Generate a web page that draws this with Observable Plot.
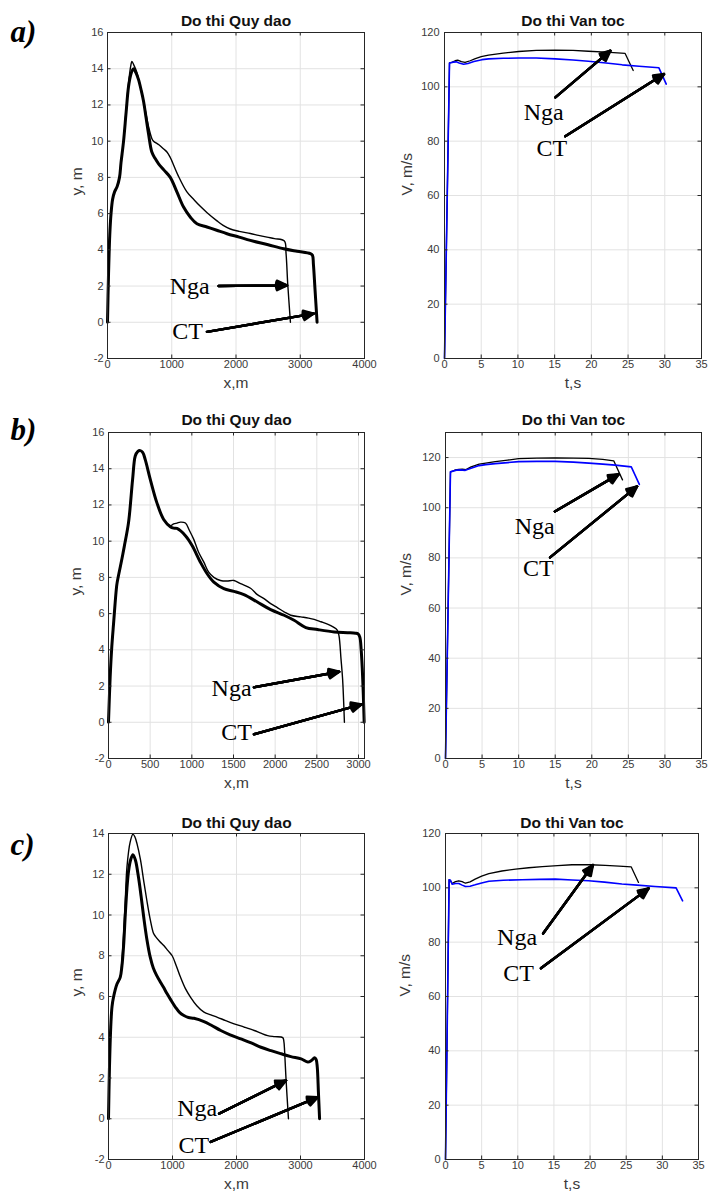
<!DOCTYPE html>
<html><head><meta charset="utf-8">
<script src="https://cdn.jsdelivr.net/npm/d3@7"></script>
<script src="https://cdn.jsdelivr.net/npm/@observablehq/plot@0.6"></script>
<style>
html,body{margin:0;padding:0;background:#fff;}
#root{position:relative;width:709px;height:1199px;background:#fff;overflow:hidden;}
</style></head><body><div id="root"></div>
<script>
// ---------- tick labels ----------
const pathXTicks4000 = [0, 1000, 2000, 3000, 4000];
const pathXTicks3000 = [0, 500, 1000, 1500, 2000, 2500, 3000];
const pathYTicks16 = [-2, 0, 2, 4, 6, 8, 10, 12, 14, 16];
const pathYTicks14 = [-2, 0, 2, 4, 6, 8, 10, 12, 14];
const velXTicks = [0, 5, 10, 15, 20, 25, 30, 35];
const velYTicks = [0, 20, 40, 60, 80, 100, 120];
const seriesNames = ["Nga", "CT"];

// ---------- panel a: trajectory ----------
const aPathNgaX = [0, 15, 35, 55, 80, 110, 150, 187, 210, 250, 290, 327, 364, 380, 410, 457, 510, 561, 600, 639, 690, 717, 800, 880, 925, 970, 1003, 1100, 1236, 1350, 1444, 1550, 1704, 1800, 1912, 2050, 2223, 2350, 2483, 2600, 2753, 2779, 2805, 2847];
const aPathNgaY = [0, 2.5, 4.8, 6.0, 6.8, 7.2, 7.5, 8.0, 8.8, 10.0, 11.7, 13.2, 14.2, 14.4, 14.2, 13.8, 13.0, 12.2, 11.5, 10.8, 10.15, 10.0, 9.8, 9.55, 9.4, 9.15, 8.9, 8.1, 7.2, 6.75, 6.4, 6.05, 5.6, 5.35, 5.15, 5.02, 4.9, 4.8, 4.7, 4.62, 4.49, 3.79, 2.13, 0];
const aPathCtX = [0, 15, 35, 55, 80, 110, 150, 187, 210, 250, 290, 327, 364, 405, 440, 483, 525, 561, 600, 639, 690, 740, 795, 880, 977, 1080, 1184, 1290, 1392, 1548, 1700, 1860, 2050, 2223, 2500, 2743, 2950, 3158, 3190, 3205, 3230, 3262];
const aPathCtY = [0, 2.5, 4.8, 6.0, 6.8, 7.2, 7.5, 8.0, 8.8, 10.0, 11.6, 13.0, 13.7, 14.0, 13.8, 13.4, 12.8, 12.2, 11.3, 10.4, 9.4, 9.05, 8.75, 8.4, 8.0, 7.2, 6.36, 5.8, 5.44, 5.26, 5.08, 4.89, 4.7, 4.52, 4.28, 4.06, 3.92, 3.79, 3.7, 3.2, 1.8, 0];
const aPathNoteX = [1278, 1247];
const aPathNoteY = [2.0, -0.51];
const aPathArrowX1 = [1730, 1548];
const aPathArrowY1 = [2.0, -0.53];
const aPathArrowX2 = [2795, 3210];
const aPathArrowY2 = [2.04, 0.48];

// ---------- panel a: velocity ----------
const aVelNgaT = [0, 0.68, 1.0, 1.45, 1.8, 2.3, 2.8, 3.5, 4.2, 5.0, 6.0, 8.0, 10.1, 12.5, 15.1, 17.5, 19.6, 22.0, 24.6, 25.7];
const aVelNgaV = [0, 108.8, 109.0, 109.6, 109.8, 109.3, 109.0, 109.6, 110.4, 111.1, 111.7, 112.4, 113.0, 113.4, 113.5, 113.4, 113.1, 112.8, 112.3, 106.0];
const aVelCtT = [0, 0.68, 1.2, 1.6, 2.0, 2.6, 3.2, 4.0, 5.1, 6.0, 8.0, 10.1, 12.5, 15.1, 17.5, 19.6, 22.0, 24.2, 26.5, 29.2, 30.2];
const aVelCtV = [0, 108.8, 109.1, 109.2, 108.8, 108.3, 108.6, 109.3, 110.0, 110.3, 110.5, 110.6, 110.6, 110.3, 109.9, 109.4, 108.8, 108.1, 107.6, 107.0, 101.0];
const aVelNoteT = [13.5, 14.6];
const aVelNoteV = [90.8, 77.3];
const aVelArrowT1 = [15.1, 16.45];
const aVelArrowV1 = [96.1, 81.8];
const aVelArrowT2 = [22.6, 29.9];
const aVelArrowV2 = [113.3, 104.7];

// ---------- panel b: trajectory ----------
const bPathNgaX = [0, 20, 40, 60, 100, 120, 160, 189, 241, 289, 321, 350, 381, 410, 441, 502, 582, 662, 742, 782, 823, 863, 923, 970, 1023, 1080, 1144, 1200, 1264, 1344, 1420, 1505, 1585, 1705, 1786, 1866, 1946, 2026, 2107, 2187, 2307, 2400, 2468, 2550, 2628, 2700, 2743, 2765, 2790, 2809, 2831];
const bPathNgaY = [0, 2.5, 4.2, 5.4, 7.6, 8.1, 9.0, 9.7, 11.05, 13.4, 14.7, 14.95, 15.0, 14.9, 14.5, 13.4, 12.1, 11.2, 10.85, 10.95, 11.0, 11.05, 11.0, 10.6, 10.1, 9.4, 8.84, 8.3, 8.0, 7.83, 7.8, 7.83, 7.65, 7.4, 7.05, 6.83, 6.55, 6.33, 6.1, 5.91, 5.82, 5.75, 5.68, 5.55, 5.42, 5.25, 5.1, 4.8, 3.5, 2.4, 0];
const bPathCtX = [0, 20, 40, 60, 100, 120, 160, 189, 241, 289, 321, 350, 381, 410, 441, 502, 582, 662, 742, 782, 822, 923, 1003, 1103, 1184, 1264, 1384, 1505, 1625, 1786, 1946, 2107, 2227, 2368, 2508, 2709, 2869, 2964, 2995, 3016, 3032, 3045, 3058, 3068];
const bPathCtY = [0, 2.5, 4.2, 5.4, 7.6, 8.1, 9.0, 9.7, 11.05, 13.4, 14.7, 14.95, 15.0, 14.9, 14.5, 13.4, 12.1, 11.2, 10.8, 10.72, 10.7, 10.3, 9.76, 8.84, 8.2, 7.74, 7.38, 7.23, 7.05, 6.64, 6.22, 5.91, 5.63, 5.23, 5.12, 4.99, 4.95, 4.92, 4.88, 4.7, 4.0, 3.0, 1.5, 0];
const bPathNoteX = [1477, 1537];
const bPathNoteY = [1.87, -0.55];
const bPathArrowX1 = [1745, 1745];
const bPathArrowY1 = [1.93, -0.66];
const bPathArrowX2 = [2769, 3038];
const bPathArrowY2 = [2.79, 0.99];

// ---------- panel b: velocity ----------
const bVelNgaT = [0, 0.68, 1.0, 1.37, 1.8, 2.3, 2.8, 3.5, 4.6, 5.5, 6.8, 8.5, 10.0, 12.5, 15.0, 17.5, 19.6, 21.5, 23.0, 24.2];
const bVelNgaV = [0, 114.3, 114.6, 115.1, 115.3, 115.4, 115.2, 116.3, 117.4, 117.8, 118.4, 119.0, 119.6, 119.8, 119.9, 119.8, 119.7, 119.3, 118.7, 111.1];
const bVelCtT = [0, 0.68, 1.0, 1.5, 2.0, 2.7, 3.5, 4.6, 5.5, 6.8, 8.5, 10.0, 12.5, 15.0, 17.5, 19.6, 21.5, 23.2, 25.4, 26.5];
const bVelCtV = [0, 114.3, 114.6, 115.0, 115.1, 114.9, 115.7, 116.8, 117.2, 117.6, 118.0, 118.4, 118.5, 118.5, 118.2, 117.8, 117.4, 117.0, 116.3, 109.3];
const bVelNoteT = [12.2, 12.7];
const bVelNoteV = [92.4, 75.9];
const bVelArrowT1 = [14.95, 14.3];
const bVelArrowV1 = [98.5, 80.2];
const bVelArrowT2 = [23.7, 26.2];
const bVelArrowV2 = [113.4, 108.5];

// ---------- panel c: trajectory ----------
const cPathNgaX = [0, 15, 35, 55, 78, 131, 183, 210, 236, 262, 288, 340, 382, 410, 445, 500, 550, 600, 654, 703, 733, 800, 864, 930, 995, 1060, 1126, 1200, 1283, 1380, 1492, 1600, 1702, 1830, 1963, 2120, 2277, 2380, 2487, 2600, 2723, 2740, 2752, 2775, 2812];
const cPathNgaY = [0, 2.5, 4.5, 5.5, 5.96, 6.6, 6.94, 7.8, 9.07, 10.7, 12.34, 13.6, 13.97, 13.85, 13.5, 12.7, 11.68, 10.7, 9.75, 9.1, 8.95, 8.7, 8.5, 8.25, 8.0, 7.5, 6.94, 6.4, 5.96, 5.55, 5.23, 5.1, 4.98, 4.82, 4.66, 4.5, 4.33, 4.2, 4.08, 4.03, 3.98, 3.8, 3.3, 1.88, 0];
const cPathCtX = [0, 15, 35, 55, 78, 131, 183, 210, 236, 262, 288, 314, 345, 382, 420, 471, 510, 550, 600, 652, 700, 750, 812, 860, 916, 980, 1047, 1110, 1178, 1250, 1335, 1492, 1600, 1754, 1900, 2068, 2230, 2382, 2540, 2696, 2850, 3010, 3115, 3170, 3220, 3245, 3262, 3280, 3298];
const cPathCtY = [0, 2.5, 4.5, 5.5, 5.96, 6.6, 6.94, 7.5, 8.5, 10.0, 11.3, 12.17, 12.7, 12.96, 12.7, 11.8, 10.9, 9.9, 8.8, 7.93, 7.4, 7.05, 6.7, 6.45, 6.13, 5.8, 5.47, 5.22, 5.07, 4.97, 4.93, 4.77, 4.6, 4.33, 4.12, 3.92, 3.72, 3.51, 3.34, 3.19, 3.05, 2.94, 2.78, 2.86, 2.99, 2.9, 2.53, 1.3, 0];
const cPathNoteX = [1387, 1335];
const cPathNoteY = [0.49, -1.31];
const cPathArrowX1 = [1728, 1597];
const cPathArrowY1 = [0.25, -1.14];
const cPathArrowX2 = [2775, 3272];
const cPathArrowY2 = [1.88, 1.06];

// ---------- panel c: velocity ----------
const cVelNgaT = [0, 0.5, 0.69, 0.9, 1.38, 1.84, 2.3, 2.76, 3.4, 4.1, 5.0, 6.0, 7.8, 9.7, 11.5, 13.4, 15.5, 17.5, 20.0, 22.1, 24.0, 25.7, 26.7];
const cVelNgaV = [0, 103, 102.6, 101.6, 102.3, 102.6, 102.3, 101.7, 102.2, 103.2, 104.3, 105.2, 106.2, 106.9, 107.4, 107.8, 108.2, 108.5, 108.5, 108.3, 108.0, 107.7, 102.0];
const cVelCtT = [0, 0.5, 0.69, 0.92, 1.4, 1.84, 2.3, 2.76, 3.4, 4.1, 5.0, 6.0, 8.0, 10.6, 13.0, 15.2, 17.5, 19.8, 22.0, 24.4, 26.5, 29.0, 31.9, 32.8];
const cVelCtV = [0, 103, 102.8, 101.3, 101.6, 101.6, 101.0, 100.5, 100.6, 101.1, 101.8, 102.4, 102.8, 103.0, 103.1, 103.2, 102.9, 102.6, 102.1, 101.4, 101.0, 100.5, 100.0, 95.2];
const cVelNoteT = [9.9, 10.1];
const cVelNoteV = [81.8, 68.7];
const cVelArrowT1 = [13.5, 13.2];
const cVelArrowV1 = [83.2, 70.4];
const cVelArrowT2 = [20.4, 28.1];
const cVelArrowV2 = [108.4, 99.8];

// ---------- helpers ----------
const pts = (xs, ys) => xs.map((x, i) => ({x, y: ys[i]}));
const notes = (xs, ys) => seriesNames.map((t, i) => ({t, x: xs[i], y: ys[i]}));
const arrowsOf = (x1, y1, x2, y2) => x1.map((_, i) => ({x1: x1[i], y1: y1[i], x2: x2[i], y2: y2[i]}));
const AX = "#262626", TXT = "#3a3a3a", GRID = "#e2e2e2";
const SANS = "'Liberation Sans', Arial, sans-serif";
const SERIF = "'Liberation Serif', 'Times New Roman', serif";
const root = document.getElementById("root");

function panel(c) {
  const fw = c.width - c.ml - c.mr, fh = c.height - c.mt - c.mb, tk = 3.5;
  const marks = [
    Plot.gridX(c.xTicks, {stroke: GRID, strokeOpacity: 1}),
    Plot.gridY(c.yTicks, {stroke: GRID, strokeOpacity: 1}),
    ...c.series.map(s => Plot.line(pts(s.x, s.y), {x: "x", y: "y", stroke: s.color, strokeWidth: s.width, curve: c.curve})),
    Plot.tickX(c.xTicks, {x: d => d, insetBottom: fh - tk, stroke: AX}),
    Plot.tickX(c.xTicks, {x: d => d, insetTop: fh - tk, stroke: AX}),
    Plot.tickY(c.yTicks, {y: d => d, insetRight: fw - tk, stroke: AX}),
    Plot.tickY(c.yTicks, {y: d => d, insetLeft: fw - tk, stroke: AX}),
    Plot.frame({stroke: AX}),
    Plot.axisX(c.xTicks, {anchor: "bottom", tickSize: 0, tickPadding: 2, tickFormat: d => String(d), label: null, fill: TXT}),
    Plot.axisY(c.yTicks, {anchor: "left", tickSize: 0, tickPadding: c.yPad, tickFormat: d => String(d), label: null, fill: TXT}),
    ...[50, 36, 22, 8].map(a => Plot.arrow(c.arrows, {x1: "x1", y1: "y1", x2: "x2", y2: "y2", stroke: "black", strokeWidth: 2.4, headAngle: a, headLength: 7})),
    Plot.text(c.notes, {x: "x", y: "y", text: "t", fontFamily: SERIF, fontSize: 24, fill: "black"}),
    Plot.text([c.title], {text: d => d, frameAnchor: "top", dy: c.titleDy, lineAnchor: "bottom", fontWeight: "bold", fontSize: 15.5, fill: "#111"}),
    Plot.text([c.xLabel], {text: d => d, frameAnchor: "bottom", dy: 29, lineAnchor: "bottom", fontSize: 15.5, fill: TXT}),
    Plot.text([c.yLabel], {text: d => d, frameAnchor: "left", dx: c.yLabelDx, rotate: -90, lineAnchor: "bottom", fontSize: 15.5, fill: TXT})
  ];
  if (c.letter) marks.push(Plot.text([c.letter], {text: d => d, frameAnchor: "top-left", dx: c.letterDx, dy: c.letterDy, textAnchor: "start", lineAnchor: "bottom", fontFamily: SERIF, fontStyle: "italic", fontWeight: "bold", fontSize: 31, fill: "black"}));
  const svg = Plot.plot({
    width: c.width, height: c.height,
    marginLeft: c.ml, marginRight: c.mr, marginTop: c.mt, marginBottom: c.mb,
    style: {fontFamily: SANS, fontSize: "11px", color: TXT, background: "transparent", overflow: "visible"},
    x: {domain: c.xDomain},
    y: {domain: c.yDomain},
    marks
  });
  svg.style.position = "absolute";
  svg.style.left = c.left + "px";
  svg.style.top = c.top + "px";
  root.appendChild(svg);
}

const pathSeries = (nx, ny, cx, cy) => [
  {x: nx, y: ny, color: "black", width: 1.4},
  {x: cx, y: cy, color: "black", width: 3}
];
const velSeries = (nt, nv, ct, cv) => [
  {x: nt, y: nv, color: "black", width: 1.3},
  {x: ct, y: cv, color: "#0000ff", width: 1.6}
];

// row a
panel({left: 0, top: 0, width: 372, height: 395, ml: 107, mr: 8, mt: 32, mb: 37,
  xDomain: [0, 4000], yDomain: [-2, 16], xTicks: pathXTicks4000, yTicks: pathYTicks16, yPad: 4, curve: "catmull-rom",
  series: pathSeries(aPathNgaX, aPathNgaY, aPathCtX, aPathCtY),
  arrows: arrowsOf(aPathArrowX1, aPathArrowY1, aPathArrowX2, aPathArrowY2),
  notes: notes(aPathNoteX, aPathNoteY),
  title: "Do thi Quy dao", titleDy: -7, xLabel: "x,m", yLabel: "y, m", yLabelDx: -26,
  letter: "a)", letterDx: -97, letterDy: 9});
panel({left: 372, top: 0, width: 337, height: 395, ml: 72, mr: 8, mt: 32, mb: 37,
  xDomain: [0, 35], yDomain: [0, 120], xTicks: velXTicks, yTicks: velYTicks, yPad: 5, curve: "linear",
  series: velSeries(aVelNgaT, aVelNgaV, aVelCtT, aVelCtV),
  arrows: arrowsOf(aVelArrowT1, aVelArrowV1, aVelArrowT2, aVelArrowV2),
  notes: notes(aVelNoteT, aVelNoteV),
  title: "Do thi Van toc", titleDy: -7, xLabel: "t,s", yLabel: "V, m/s", yLabelDx: -33});

// row b
panel({left: 0, top: 395, width: 372, height: 400, ml: 108, mr: 8, mt: 37, mb: 37,
  xDomain: [0, 3072], yDomain: [-2, 16], xTicks: pathXTicks3000, yTicks: pathYTicks16, yPad: 4, curve: "catmull-rom",
  series: pathSeries(bPathNgaX, bPathNgaY, bPathCtX, bPathCtY),
  arrows: arrowsOf(bPathArrowX1, bPathArrowY1, bPathArrowX2, bPathArrowY2),
  notes: notes(bPathNoteX, bPathNoteY),
  title: "Do thi Quy dao", titleDy: -7.5, xLabel: "x,m", yLabel: "y, m", yLabelDx: -28,
  letter: "b)", letterDx: -98, letterDy: 7});
panel({left: 372, top: 395, width: 337, height: 400, ml: 73, mr: 8, mt: 37, mb: 37,
  xDomain: [0, 35], yDomain: [0, 130], xTicks: velXTicks, yTicks: velYTicks, yPad: 5, curve: "linear",
  series: velSeries(bVelNgaT, bVelNgaV, bVelCtT, bVelCtV),
  arrows: arrowsOf(bVelArrowT1, bVelArrowV1, bVelArrowT2, bVelArrowV2),
  notes: notes(bVelNoteT, bVelNoteV),
  title: "Do thi Van toc", titleDy: -7.5, xLabel: "t,s", yLabel: "V, m/s", yLabelDx: -35});

// row c
panel({left: 0, top: 795, width: 372, height: 404, ml: 108, mr: 8, mt: 38, mb: 40,
  xDomain: [0, 4000], yDomain: [-2, 14], xTicks: pathXTicks4000, yTicks: pathYTicks14, yPad: 4, curve: "catmull-rom",
  series: pathSeries(cPathNgaX, cPathNgaY, cPathCtX, cPathCtY),
  arrows: arrowsOf(cPathArrowX1, cPathArrowY1, cPathArrowX2, cPathArrowY2),
  notes: notes(cPathNoteX, cPathNoteY),
  title: "Do thi Quy dao", titleDy: -6, xLabel: "x,m", yLabel: "y, m", yLabelDx: -27,
  letter: "c)", letterDx: -98, letterDy: 21});
panel({left: 372, top: 795, width: 337, height: 404, ml: 73, mr: 11, mt: 38, mb: 40,
  xDomain: [0, 35], yDomain: [0, 120], xTicks: velXTicks, yTicks: velYTicks, yPad: 5, curve: "linear",
  series: velSeries(cVelNgaT, cVelNgaV, cVelCtT, cVelCtV),
  arrows: arrowsOf(cVelArrowT1, cVelArrowV1, cVelArrowT2, cVelArrowV2),
  notes: notes(cVelNoteT, cVelNoteV),
  title: "Do thi Van toc", titleDy: -6, xLabel: "t,s", yLabel: "V, m/s", yLabelDx: -36});
</script></body></html>
